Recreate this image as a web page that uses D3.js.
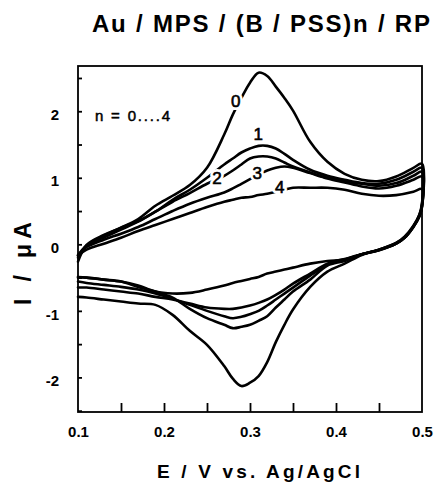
<!DOCTYPE html>
<html><head><meta charset="utf-8">
<script src="https://cdn.jsdelivr.net/npm/d3@7"></script>
<style>
html,body{margin:0;padding:0;background:#fff;}
text{font-family:"Liberation Sans",Arial,Helvetica,sans-serif;fill:#000;}
</style></head>
<body>
<svg id="chart" width="437" height="482"></svg>
<script>
// ---------- data ----------
const titleText = "Au / MPS / (B / PSS)n / RP";
const xLabelText = "E  /  V vs. Ag/AgCl";
const yLabelText = "I  /  \u03bcA";
const noteText = "n = 0....4";

const xTickLabels = [0.1, 0.2, 0.3, 0.4, 0.5];
const xMinorTicks = [0.15, 0.2, 0.25, 0.3, 0.35, 0.4, 0.45];
const yTickLabels = [2, 1, 0, -1, -2];
const yMinorTicks = [2.5, 2, 1.5, 1, 0.5, 0, -0.5, -1, -1.5, -2, -2.5];

// anodic (forward) sweep potentials, V
const eUp = [0.10,0.11,0.13,0.15,0.17,0.19,0.21,0.23,0.25,0.27,0.28,0.29,0.30,0.31,0.32,0.33,0.34,0.35,0.37,0.39,0.41,0.43,0.45,0.47,0.49,0.50];
// cathodic (reverse) sweep potentials, V
const eDown = [0.50,0.497,0.49,0.48,0.47,0.45,0.43,0.41,0.39,0.37,0.35,0.34,0.33,0.32,0.31,0.30,0.29,0.28,0.27,0.25,0.23,0.21,0.19,0.17,0.15,0.13,0.11,0.10];

// currents (µA), n = 0..4
const iUp0 = [-0.26,-0.01,0.14,0.25,0.38,0.58,0.73,0.89,1.15,1.65,1.95,2.20,2.43,2.58,2.53,2.37,2.20,2.01,1.54,1.24,1.06,0.97,0.95,1.02,1.15,1.21];
const iUp1 = [-0.20,-0.02,0.13,0.25,0.35,0.49,0.67,0.82,1.00,1.20,1.29,1.38,1.44,1.48,1.48,1.44,1.36,1.27,1.12,1.03,0.97,0.92,0.91,0.97,1.09,1.15];
const iUp2 = [-0.17,-0.02,0.10,0.22,0.34,0.49,0.64,0.77,0.91,1.03,1.11,1.20,1.29,1.32,1.32,1.29,1.23,1.17,1.08,1.00,0.95,0.91,0.88,0.92,1.03,1.09];
const iUp3 = [-0.16,-0.04,0.07,0.16,0.26,0.38,0.50,0.61,0.70,0.78,0.84,0.91,0.98,1.05,1.11,1.15,1.17,1.15,1.07,0.99,0.93,0.87,0.84,0.88,0.97,1.02];
const iUp4 = [-0.17,-0.08,0.01,0.10,0.20,0.29,0.38,0.47,0.56,0.64,0.67,0.70,0.71,0.74,0.76,0.79,0.82,0.85,0.85,0.85,0.82,0.76,0.73,0.74,0.79,0.83];

const iDown0 = [0.62,0.45,0.28,0.12,0.02,-0.08,-0.16,-0.29,-0.41,-0.64,-0.98,-1.21,-1.47,-1.77,-1.98,-2.08,-2.13,-2.02,-1.83,-1.51,-1.30,-1.06,-0.91,-0.89,-0.86,-0.83,-0.80,-0.79];
const iDown1 = [0.60,0.44,0.27,0.11,0.02,-0.08,-0.15,-0.25,-0.32,-0.53,-0.71,-0.83,-0.95,-1.08,-1.15,-1.21,-1.24,-1.26,-1.21,-1.11,-0.97,-0.80,-0.71,-0.64,-0.56,-0.53,-0.50,-0.49];
const iDown2 = [0.58,0.43,0.27,0.10,0.01,-0.08,-0.15,-0.23,-0.31,-0.47,-0.65,-0.74,-0.83,-0.92,-1.00,-1.05,-1.09,-1.11,-1.08,-1.00,-0.91,-0.82,-0.74,-0.68,-0.64,-0.61,-0.58,-0.56];
const iDown3 = [0.57,0.42,0.26,0.10,0.01,-0.09,-0.15,-0.22,-0.29,-0.44,-0.59,-0.68,-0.76,-0.83,-0.88,-0.92,-0.95,-0.97,-0.97,-0.95,-0.89,-0.83,-0.79,-0.74,-0.71,-0.68,-0.65,-0.65];
const iDown4 = [0.56,0.42,0.26,0.10,0.01,-0.09,-0.15,-0.23,-0.25,-0.29,-0.35,-0.38,-0.41,-0.44,-0.49,-0.52,-0.55,-0.58,-0.62,-0.68,-0.73,-0.74,-0.71,-0.62,-0.56,-0.53,-0.50,-0.50];

const curveNames = ["0","1","2","3","4"];
// label anchor points (E, I) for each curve number
const labelE = [0.2835, 0.3095, 0.2615, 0.3085, 0.3345];
const labelI = [2.16, 1.66, 1.00, 1.08, 0.86];

// ---------- drawing ----------
const svg = d3.select("#chart");
const L = 78, R = 422, T = 66, B = 412;
const x = d3.scaleLinear().domain([0.1, 0.5]).range([L, R]);
const y = d3.scaleLinear().domain([-2.52, 2.68]).range([B, T]);

const ups = [iUp0, iUp1, iUp2, iUp3, iUp4];
const downs = [iDown0, iDown1, iDown2, iDown3, iDown4];

const line = d3.line().x(d => x(d[0])).y(d => y(d[1])).curve(d3.curveCatmullRom.alpha(0.5));

const g = svg.append("g");
ups.forEach((up, k) => {
  const pts = eUp.map((e, j) => [e, up[j]]).concat(eDown.map((e, j) => [e, downs[k][j]]));
  g.append("path").attr("d", line(pts))
    .attr("fill", "none").attr("stroke", "#000").attr("stroke-width", 2.6)
    .attr("stroke-linejoin", "round").attr("stroke-linecap", "round");
});

// frame
svg.append("rect").attr("x", L).attr("y", T).attr("width", R - L).attr("height", B - T)
  .attr("fill", "none").attr("stroke", "#000").attr("stroke-width", 1.8);

// bottom axis: inward ticks
const xAxis = d3.axisBottom(x).tickValues(xMinorTicks).tickSize(-9).tickFormat("");
const gx = svg.append("g").attr("transform", `translate(0,${B})`).call(xAxis);
gx.select(".domain").remove();
gx.selectAll("line").attr("stroke", "#000").attr("stroke-width", 1.8);

const xLab = svg.append("g").attr("transform", `translate(0,${B})`)
  .call(d3.axisBottom(x).tickValues(xTickLabels).tickSize(0).tickPadding(0).tickFormat(d3.format(".1f")));
xLab.select(".domain").remove();
xLab.selectAll("text").attr("y", 25).attr("dy", 0)
  .style("font-size", "15px").style("font-weight", "bold")
  .style("font-family", "'Liberation Sans', Arial, sans-serif");

// left axis: inward ticks
const yAxis = d3.axisLeft(y).tickValues(yMinorTicks).tickSize(-4).tickFormat("");
const gy = svg.append("g").attr("transform", `translate(${L},0)`).call(yAxis);
gy.select(".domain").remove();
gy.selectAll("line").attr("stroke", "#000").attr("stroke-width", 1.8);

const yLab = svg.append("g").attr("transform", `translate(${L},0)`)
  .call(d3.axisLeft(y).tickValues(yTickLabels).tickSize(0).tickPadding(19).tickFormat(d => d < 0 ? "-" + Math.abs(d) : String(d)));
yLab.select(".domain").remove();
yLab.selectAll("text").attr("dy", "0.68em").attr("y", -2)
  .style("font-size", "15px").style("font-weight", "bold")
  .style("font-family", "'Liberation Sans', Arial, sans-serif");

// titles
svg.append("text").attr("x", 92).attr("y", 32).attr("textLength", 338).attr("lengthAdjust", "spacing")
  .style("font-size", "24px").style("font-weight", "bold").text(titleText);

svg.append("text").attr("x", 157).attr("y", 478).attr("textLength", 203).attr("lengthAdjust", "spacing")
  .style("font-size", "19px").style("font-weight", "bold").text(xLabelText);

svg.append("text").attr("transform", "translate(31,305) rotate(-90)")
  .attr("x", 0).attr("y", 0).attr("textLength", 83).attr("lengthAdjust", "spacing")
  .style("font-size", "23px").style("font-weight", "bold").text(yLabelText);

svg.append("text").attr("x", 95).attr("y", 121).attr("textLength", 75).attr("lengthAdjust", "spacing")
  .style("font-size", "15px").attr("stroke", "#000").attr("stroke-width", 0.5).text(noteText);

// curve number labels (white halo breaks the curves, as in the original)
curveNames.forEach((nm, k) => {
  const px = x(labelE[k]), py = y(labelI[k]);
  svg.append("text").attr("x", px).attr("y", py)
    .attr("text-anchor", "middle").attr("dy", "0.36em")
    .style("font-size", "17px").style("fill", "#fff")
    .attr("stroke", "#fff").attr("stroke-width", 6).attr("stroke-linejoin", "round").text(nm);
  svg.append("text").attr("x", px).attr("y", py)
    .attr("text-anchor", "middle").attr("dy", "0.36em")
    .style("font-size", "17px").attr("stroke", "#000").attr("stroke-width", 0.6).text(nm);
});
</script>
</body></html>
